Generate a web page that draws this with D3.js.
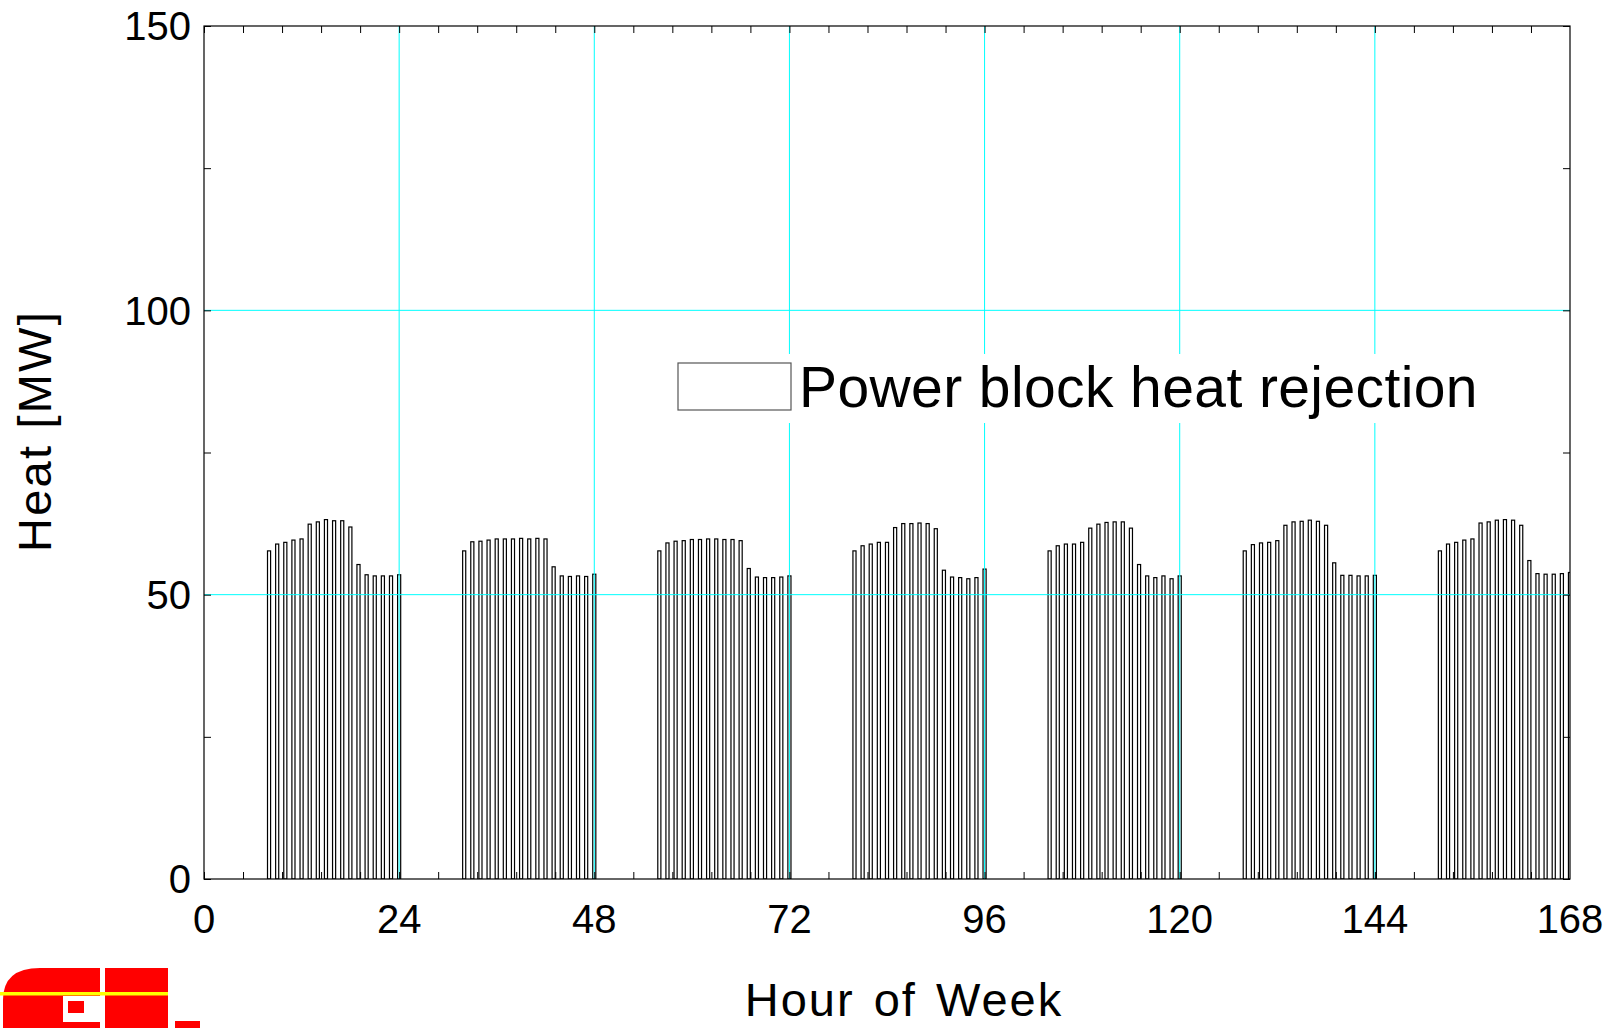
<!DOCTYPE html>
<html>
<head>
<meta charset="utf-8">
<script src="https://cdn.jsdelivr.net/npm/d3@7"></script>
<style>
	body { margin: 0; background: #fff; }
	svg text { font-family: "Liberation Sans", Arial, sans-serif; fill: #000; }
</style>
</head>
<body>
<svg id="chart" width="1617" height="1028"></svg>
<script>
// first hour of each day's operating block (hour of week)
const dayStartHours = [8, 32, 56, 80, 104, 128, 152];

// power block heat rejection [MW], one value per hour, hours start..start+16
const day1 = [57.7, 58.9, 59.2, 59.6, 59.8, 62.4, 62.8, 63.2, 63.0, 63.0, 61.9, 55.3, 53.5, 53.3, 53.3, 53.3, 53.5];
const day2 = [57.7, 59.3, 59.4, 59.6, 59.8, 59.8, 59.8, 59.9, 59.8, 59.9, 59.8, 54.9, 53.3, 53.2, 53.3, 53.2, 53.6];
const day3 = [57.7, 59.1, 59.4, 59.5, 59.7, 59.7, 59.8, 59.8, 59.7, 59.7, 59.5, 54.6, 53.1, 53.0, 53.0, 53.1, 53.3];
const day4 = [57.7, 58.6, 58.9, 59.2, 59.2, 61.8, 62.5, 62.5, 62.6, 62.5, 61.6, 54.3, 53.1, 53.0, 52.8, 53.0, 54.5];
const day5 = [57.7, 58.6, 58.9, 58.9, 59.2, 61.7, 62.4, 62.7, 62.8, 62.8, 61.7, 55.3, 53.3, 53.0, 53.3, 52.8, 53.3];
const day6 = [57.7, 58.8, 59.1, 59.2, 59.5, 62.2, 62.8, 62.9, 63.1, 62.9, 62.2, 55.6, 53.4, 53.4, 53.3, 53.3, 53.4];
const day7 = [57.7, 58.9, 59.2, 59.6, 59.8, 62.6, 62.8, 63.1, 63.2, 63.1, 62.2, 56.0, 53.7, 53.6, 53.6, 53.7, 53.9];
const days = [day1, day2, day3, day4, day5, day6, day7];

const xTickLabels = [0, 24, 48, 72, 96, 120, 144, 168];
const xMinorTicks = d3.range(0, 35).map(function(i){ return i * 4.8; });
const yTickLabels = [0, 50, 100, 150];
const yMinorTicks = [0, 25, 50, 75, 100, 125, 150];
const xGrid = [24, 48, 72, 96, 120, 144];
const yGrid = [50, 100];

const legendLabel = "Power block heat rejection";

/* ---------------------------------------------------- */

let svg = d3.select("#chart");
let plotLeft = 204, plotRight = 1570, plotTop = 26, plotBottom = 879;
let barWidth = 0.38;	// hours

let x = d3.scaleLinear().domain([0, 168]).range([plotLeft, plotRight]);
let y = d3.scaleLinear().domain([0, 150]).range([plotBottom, plotTop]);

let data = [];
days.forEach(function(values, d){
	values.forEach(function(v, i){
		data.push({ hour: dayStartHours[d] + i, value: v });
	});
});

svg.append("defs").append("clipPath")
	.attr("id", "plotClip")
	.append("rect")
	.attr("x", plotLeft).attr("y", plotTop)
	.attr("width", plotRight - plotLeft).attr("height", plotBottom - plotTop);

// bars
svg.append("g")
	.attr("clip-path", "url(#plotClip)")
	.selectAll("rect")
	.data(data)
	.enter().append("rect")
	.attr("x", function(d){ return x(d.hour - barWidth / 2); })
	.attr("y", function(d){ return y(d.value); })
	.attr("width", x(barWidth) - x(0))
	.attr("height", function(d){ return y(0) - y(d.value); })
	.attr("fill", "#fff")
	.attr("stroke", "#000")
	.attr("stroke-width", 1.2);

// grid
let grid = svg.append("g").attr("stroke", "#00ffff").attr("stroke-width", 1);
grid.selectAll(".vg").data(xGrid).enter().append("line")
	.attr("x1", function(d){ return x(d); }).attr("x2", function(d){ return x(d); })
	.attr("y1", plotTop).attr("y2", plotBottom);
grid.selectAll(".hg").data(yGrid).enter().append("line")
	.attr("x1", plotLeft).attr("x2", plotRight)
	.attr("y1", function(d){ return y(d); }).attr("y2", function(d){ return y(d); });

// axes (ticks inward, box)
svg.append("g")
	.attr("transform", "translate(0," + plotBottom + ")")
	.call(d3.axisTop(x).tickValues(xMinorTicks).tickSize(7).tickFormat(""));
svg.append("g")
	.attr("transform", "translate(0," + plotTop + ")")
	.call(d3.axisBottom(x).tickValues(xMinorTicks).tickSize(7).tickFormat(""));
svg.append("g")
	.attr("transform", "translate(" + plotLeft + ",0)")
	.call(d3.axisRight(y).tickValues(yMinorTicks).tickSize(7).tickFormat(""));
svg.append("g")
	.attr("transform", "translate(" + plotRight + ",0)")
	.call(d3.axisLeft(y).tickValues(yMinorTicks).tickSize(7).tickFormat(""));
svg.selectAll(".domain").remove();
svg.selectAll(".tick line").attr("stroke", "#000").attr("stroke-width", 1);

svg.append("rect")
	.attr("x", plotLeft).attr("y", plotTop)
	.attr("width", plotRight - plotLeft).attr("height", plotBottom - plotTop)
	.attr("fill", "none")
	.attr("stroke", "#000")
	.attr("stroke-width", 1.2);

// tick labels
svg.append("g").selectAll("text")
	.data(xTickLabels)
	.enter().append("text")
	.attr("x", function(d){ return x(d); })
	.attr("y", 933)
	.attr("text-anchor", "middle")
	.style("font-size", "40px")
	.text(function(d){ return d; });

svg.append("g").selectAll("text")
	.data(yTickLabels)
	.enter().append("text")
	.attr("x", 191)
	.attr("y", function(d){ return y(d); })
	.attr("dy", "0.36em")
	.attr("text-anchor", "end")
	.style("font-size", "40px")
	.text(function(d){ return d; });

// axis titles
svg.append("text")
	.attr("x", 904)
	.attr("y", 1016)
	.attr("text-anchor", "middle")
	.style("font-size", "47px")
	.style("letter-spacing", "2px")
	.style("word-spacing", "4px")
	.text("Hour of Week");

svg.append("text")
	.attr("transform", "translate(51,431) rotate(-90)")
	.attr("text-anchor", "middle")
	.style("font-size", "47px")
	.style("letter-spacing", "2.2px")
	.text("Heat [MW]");

// legend
let legend = svg.append("g");
legend.append("rect")
	.attr("x", 670).attr("y", 354)
	.attr("width", 820).attr("height", 69)
	.attr("fill", "#fff");
legend.append("rect")
	.attr("x", 678).attr("y", 363)
	.attr("width", 113).attr("height", 47)
	.attr("fill", "#fff")
	.attr("stroke", "#555")
	.attr("stroke-width", 1.2);
legend.append("text")
	.attr("x", 799)
	.attr("y", 407)
	.style("font-size", "57px")
	.style("letter-spacing", "0.4px")
	.text(legendLabel);

// logo, bottom left
let logo = svg.append("g");
logo.append("path")
	.attr("d", "M3,1028 V1000 Q3,968 40,968 H100 V1028 Z")
	.attr("fill", "#ff0000");
logo.append("rect").attr("x", 63).attr("y", 996).attr("width", 37).attr("height", 26).attr("fill", "#fff");
logo.append("rect").attr("x", 68).attr("y", 1001).attr("width", 16).attr("height", 12).attr("fill", "#ff0000");
logo.append("rect").attr("x", 105).attr("y", 968).attr("width", 63).attr("height", 60).attr("fill", "#ff0000");
logo.append("rect").attr("x", 175).attr("y", 1021).attr("width", 25).attr("height", 7).attr("fill", "#ff0000");
logo.append("rect").attr("x", 0).attr("y", 992).attr("width", 168).attr("height", 3.5).attr("fill", "#ffff00");
</script>
</body>
</html>
